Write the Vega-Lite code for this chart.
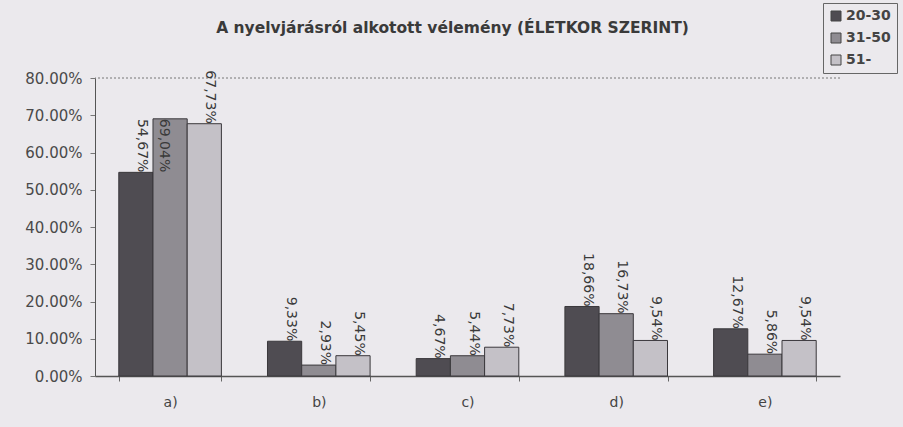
{
  "$schema": "https://vega.github.io/schema/vega-lite/v6.json",
  "autosize": {"type": "none"},
  "width": 745,
  "height": 298,
  "padding": {"left": 95, "top": 78, "right": 63, "bottom": 51},
  "background": "#ebe9ed",
  "title": {
    "text": "A nyelvjárásról alkotott vélemény (ÉLETKOR SZERINT)",
    "font": "DejaVu Sans",
    "fontSize": 15.5,
    "fontWeight": "bold",
    "color": "#3a3a3a",
    "anchor": "middle",
    "dx": -15,
    "offset": -34
  },
  "data": {
    "values": [
      {"cat": "a)", "age": "20-30", "v": 0.5467, "lbl": "54,67%"},
      {"cat": "a)", "age": "31-50", "v": 0.6904, "lbl": "69,04%"},
      {"cat": "a)", "age": "51-", "v": 0.6773, "lbl": "67,73%"},
      {"cat": "b)", "age": "20-30", "v": 0.0933, "lbl": "9,33%"},
      {"cat": "b)", "age": "31-50", "v": 0.0293, "lbl": "2,93%"},
      {"cat": "b)", "age": "51-", "v": 0.0545, "lbl": "5,45%"},
      {"cat": "c)", "age": "20-30", "v": 0.0467, "lbl": "4,67%"},
      {"cat": "c)", "age": "31-50", "v": 0.0544, "lbl": "5,44%"},
      {"cat": "c)", "age": "51-", "v": 0.0773, "lbl": "7,73%"},
      {"cat": "d)", "age": "20-30", "v": 0.1866, "lbl": "18,66%"},
      {"cat": "d)", "age": "31-50", "v": 0.1673, "lbl": "16,73%"},
      {"cat": "d)", "age": "51-", "v": 0.0954, "lbl": "9,54%"},
      {"cat": "e)", "age": "20-30", "v": 0.1267, "lbl": "12,67%"},
      {"cat": "e)", "age": "31-50", "v": 0.0586, "lbl": "5,86%"},
      {"cat": "e)", "age": "51-", "v": 0.0954, "lbl": "9,54%"}
    ]
  },
  "encoding": {
    "x": {
      "field": "cat",
      "type": "nominal",
      "scale": {"paddingInner": 0.31, "paddingOuter": 0.16},
      "axis": {
        "title": null,
        "labelAngle": 0,
        "labelFont": "DejaVu Sans",
        "labelFontSize": 14,
        "labelColor": "#444",
        "labelPadding": 14,
        "tickBand": "extent",
        "tickSize": 5,
        "tickColor": "#666",
        "domainColor": "#555",
        "domainWidth": 1.5
      }
    },
    "xOffset": {"field": "age", "type": "nominal", "sort": ["20-30", "31-50", "51-"]},
    "y": {
      "field": "v",
      "type": "quantitative",
      "scale": {"domain": [0, 0.8]},
      "axis": {
        "title": null,
        "format": ".2%",
        "values": [0, 0.1, 0.2, 0.3, 0.4, 0.5, 0.6, 0.7, 0.8],
        "labelOverlap": false,
        "labelFont": "DejaVu Sans",
        "labelFontSize": 15,
        "labelColor": "#4a4a4a",
        "labelPadding": 8,
        "tickSize": 5,
        "tickColor": "#777",
        "domainColor": "#555",
        "grid": false
      }
    }
  },
  "layer": [
    {
      "mark": {"type": "rule", "strokeDash": [2, 2], "color": "#777", "strokeWidth": 1},
      "data": {"values": [{"v": 0.8}]},
      "encoding": {"x": null, "xOffset": null}
    },
    {
      "mark": {"type": "bar", "stroke": "#3a383c", "strokeWidth": 1},
      "encoding": {
        "color": {
          "field": "age",
          "type": "nominal",
          "sort": ["20-30", "31-50", "51-"],
          "scale": {"domain": ["20-30", "31-50", "51-"], "range": ["#4f4c52", "#8f8c92", "#c4c1c7"]},
          "legend": {
            "title": null,
            "orient": "none",
            "legendX": 728,
            "legendY": -75,
            "symbolType": "square",
            "symbolSize": 100,
            "symbolStrokeColor": "#444",
            "symbolStrokeWidth": 1,
            "labelFont": "DejaVu Sans",
            "labelFontSize": 14,
            "labelFontWeight": "bold",
            "labelColor": "#444",
            "rowPadding": 8,
            "padding": 6,
            "strokeColor": "#666",
            "labelOffset": 3
          }
        }
      }
    },
    {
      "transform": [{"filter": "datum.v < 0.68"}],
      "mark": {"type": "text", "angle": 90, "align": "right", "baseline": "middle", "dy": -6, "font": "DejaVu Sans", "fontSize": 14, "color": "#3a3a3a"},
      "encoding": {"text": {"field": "lbl"}}
    },
    {
      "transform": [{"filter": "datum.v >= 0.68"}],
      "mark": {"type": "text", "angle": 90, "align": "left", "baseline": "middle", "dy": 6, "font": "DejaVu Sans", "fontSize": 14, "color": "#3a3a3a"},
      "encoding": {"text": {"field": "lbl"}}
    }
  ],
  "config": {"view": {"stroke": null}}
}
